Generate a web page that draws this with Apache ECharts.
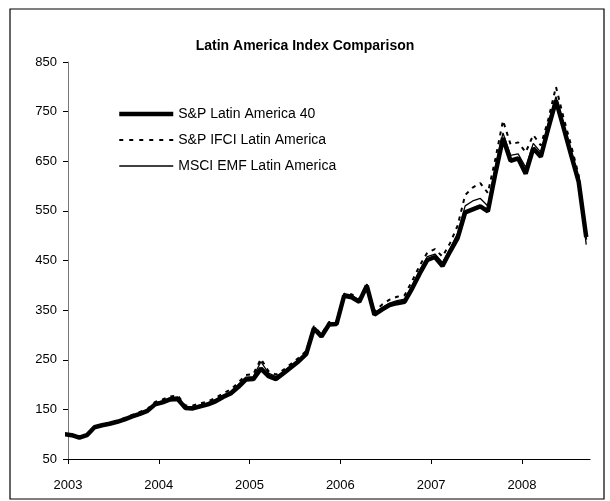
<!DOCTYPE html>
<html>
<head>
<meta charset="utf-8">
<script src="https://cdn.jsdelivr.net/npm/echarts@6/dist/echarts.min.js"></script>
<style>html,body{margin:0;padding:0;background:#fff}#c{width:610px;height:501px}</style>
</head>
<body>
<div id="c"></div>
<script>
// Month-end dates, Dec 2002 .. Sep 2008
const months = [];
for (let y = 2002; y <= 2008; y++) {
  for (let m = 1; m <= 12; m++) {
    if (y === 2002 && m < 12) continue;
    if (y === 2008 && m > 9) break;
    months.push(y + '-' + String(m).padStart(2, '0'));
  }
}
const yearLabels = ['2003', '2004', '2005', '2006', '2007', '2008'];
const yTicks = [50, 150, 250, 350, 450, 550, 650, 750, 850];

const sp40 = [100, 98, 93, 98, 114, 118, 121, 125, 130, 136, 141, 147, 160,
  164, 170, 171, 153, 152, 156, 160, 166, 175, 182, 195, 210,
  211, 232, 217, 211, 223, 235, 247, 262, 313, 297, 321, 322,
  379, 376, 367, 399, 341, 351, 360, 364, 367, 394, 424, 451,
  457, 439, 468, 495, 547, 553, 559, 549, 626, 697, 651, 656,
  625, 676, 659, 717, 772, 718, 663, 609, 497];
const ifci = [100, 99, 94, 99, 115, 119, 122, 127, 133, 139, 145, 151, 165,
  170, 176, 178, 158, 158, 162, 166, 173, 182, 190, 204, 219,
  221, 252, 227, 220, 230, 242, 254, 268, 318, 301, 326, 327,
  383, 382, 372, 402, 347, 361, 371, 377, 380, 409, 440, 466,
  473, 458, 485, 520, 582, 597, 606, 586, 655, 732, 684, 688,
  668, 703, 682, 735, 800, 738, 682, 622, 492];
const msci = [100, 98, 93, 98, 114, 118, 122, 126, 131, 137, 143, 149, 163,
  167, 173, 175, 156, 155, 159, 163, 170, 179, 186, 200, 215,
  216, 246, 223, 216, 227, 239, 251, 265, 315, 299, 324, 325,
  383, 380, 370, 401, 344, 355, 364, 369, 372, 400, 431, 458,
  463, 446, 474, 505, 560, 570, 575, 560, 640, 707, 662, 665,
  638, 686, 668, 727, 780, 726, 668, 612, 482];

// x position: months since Jan 2003, plotted mid-month
function monthPos(s) {
  const [y, m] = s.split('-').map(Number);
  return (y - 2003) * 12 + (m - 1) + 0.5;
}
function pairs(vals) { return months.map((d, i) => [monthPos(d), vals[i]]); }

const FONT = 'Liberation Sans, Arial, sans-serif';
const chart = echarts.init(document.getElementById('c'), null, {renderer: 'canvas'});
chart.setOption({
  animation: false,
  backgroundColor: '#fff',
  title: {
    text: 'Latin America Index Comparison',
    left: 'center', top: 34,
    textStyle: {fontFamily: FONT, fontSize: 14, fontWeight: 'bold', color: '#000'}
  },
  graphic: [{
    type: 'rect', shape: {x: 10, y: 9, width: 594, height: 490},
    style: {fill: 'none', stroke: '#000', lineWidth: 1.2}, silent: true, z: 100
  }],
  legend: {
    orient: 'vertical', left: 112, top: 102,
    itemWidth: 54, itemHeight: 14, itemGap: 12,
    itemStyle: {opacity: 0},
    textStyle: {fontFamily: FONT, fontSize: 14, color: '#000'},
    data: [
      {name: 'S&P Latin America 40', lineStyle: {width: 4.5, color: '#000'}},
      {name: 'S&P IFCI Latin America', lineStyle: {width: 2, color: '#000', type: [4, 6]}},
      {name: 'MSCI EMF Latin America', lineStyle: {width: 1.3, color: '#000'}}
    ]
  },
  grid: {left: 68, right: 20, top: 62, bottom: 42},
  xAxis: {
    type: 'value', min: 0, max: 69, interval: 12,
    splitLine: {show: false},
    axisLine: {lineStyle: {color: '#000', width: 1}},
    axisTick: {show: true, length: 5, lineStyle: {color: '#000'}, customValues: [0, 12, 24, 36, 48, 60]},
    axisLabel: {
      customValues: [0, 12, 24, 36, 48, 60],
      formatter: v => yearLabels[Math.round(v / 12)] || '',
      margin: 20, fontFamily: FONT, fontSize: 13, color: '#000'
    }
  },
  yAxis: {
    type: 'value', min: 50, max: 850, interval: 100,
    splitLine: {show: false},
    axisLine: {show: true, lineStyle: {color: '#777', width: 1}},
    axisTick: {show: true, length: 5, lineStyle: {color: '#000'}, customValues: yTicks},
    axisLabel: {customValues: yTicks, margin: 11, fontFamily: FONT, fontSize: 13, color: '#000'}
  },
  series: [
    {name: 'MSCI EMF Latin America', type: 'line', data: pairs(msci), symbol: 'none',
     lineStyle: {color: '#000', width: 1.3}, itemStyle: {color: '#000'}, z: 3},
    {name: 'S&P IFCI Latin America', type: 'line', data: pairs(ifci), symbol: 'none',
     lineStyle: {color: '#000', width: 2, type: [4, 5]}, itemStyle: {color: '#000'}, z: 2},
    {name: 'S&P Latin America 40', type: 'line', data: pairs(sp40), symbol: 'none',
     lineStyle: {color: '#000', width: 4.5}, itemStyle: {color: '#000'}, z: 1}
  ]
});
</script>
</body>
</html>
